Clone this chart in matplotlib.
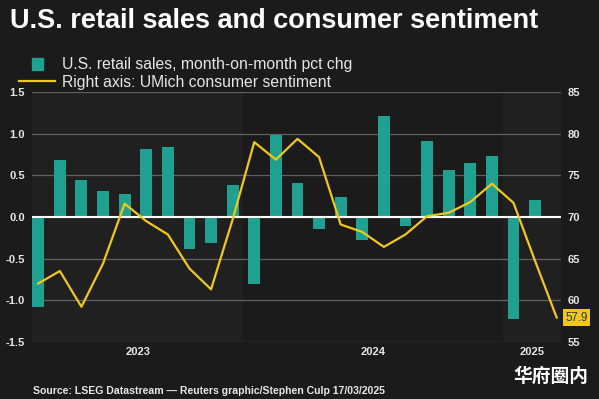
import matplotlib
matplotlib.use("Agg")
import matplotlib.pyplot as plt
import matplotlib.transforms as mtransforms
from matplotlib.patches import Rectangle
from matplotlib.lines import Line2D
import numpy as np

# Monthly data, Mar 2023 .. Mar 2025
months = ["2023-03", "2023-04", "2023-05", "2023-06", "2023-07", "2023-08",
          "2023-09", "2023-10", "2023-11", "2023-12", "2024-01", "2024-02",
          "2024-03", "2024-04", "2024-05", "2024-06", "2024-07", "2024-08",
          "2024-09", "2024-10", "2024-11", "2024-12", "2025-01", "2025-02",
          "2025-03"]
# retail sales m/m pct chg (no March 2025 print yet)
retail = [-1.08, 0.69, 0.44, 0.31, 0.28, 0.82, 0.84, -0.39, -0.31, 0.39,
          -0.81, 0.99, 0.41, -0.15, 0.24, -0.28, 1.21, -0.11, 0.91, 0.57,
          0.65, 0.73, -1.23, 0.20]
# UMich consumer sentiment
sentiment = [62.0, 63.5, 59.2, 64.4, 71.6, 69.5, 67.9, 63.8, 61.3, 69.7,
             79.0, 76.9, 79.4, 77.2, 69.1, 68.2, 66.4, 67.9, 70.1, 70.5,
             71.8, 74.0, 71.7, 64.7, 57.9]
years = ["2023", "2024", "2025"]

BG = "#1b1b1b"
BAND = "#202020"
TEAL = "#20a091"
YELLOW = "#f0c81c"
GRID = "#606060"
TXT = "#e6e6e6"

plt.rcParams['font.family'] = ['Liberation Sans', 'DejaVu Sans']

fig = plt.figure(figsize=(5.99, 3.99), dpi=100, facecolor=BG)
ax = fig.add_axes([0.053, 0.1436, 0.8836, 0.6251])
ax.set_facecolor(BG)

x = np.arange(len(months))
xmin, xmax = -0.3, 24.2

# year bands: find where each year starts
yr_of = [m[:4] for m in months]
starts = [yr_of.index(y) - 0.5 for y in years]
edges = [xmin] + starts[1:] + [xmax]
centers = []
for i, y in enumerate(years):
    lo, hi = edges[i], edges[i + 1]
    centers.append((lo + hi) / 2)
    if i % 2 == 0:
        ax.axvspan(lo, hi, color=BAND, zorder=0, lw=0)

ax.bar(x[:len(retail)], retail, width=0.55, color=TEAL, zorder=2)

ax.set_xlim(xmin, xmax)
ax.set_ylim(-1.5, 1.5)
ax.set_yticks(np.arange(-1.5, 1.51, 0.5))
ax.set_yticklabels([f"{v:.1f}" for v in np.arange(-1.5, 1.51, 0.5)])
ax.grid(axis='y', color=GRID, lw=0.9, zorder=1)
ax.axhline(0, color="white", lw=1.5, zorder=3)
ax.set_xticks(centers)
ax.set_xticklabels(years)
ax.tick_params(axis='both', length=0, colors=TXT, labelsize=8)
ax.tick_params(axis='y', pad=5)
ax.tick_params(axis='x', pad=4)
for lab in ax.get_xticklabels() + ax.get_yticklabels():
    lab.set_fontweight('bold')
for s in ax.spines.values():
    s.set_visible(False)

ax2 = ax.twinx()
ax2.set_ylim(55, 85)
ax2.set_yticks(np.arange(55, 86, 5))
ax2.plot(x, sentiment, color=YELLOW, lw=1.6, zorder=4)
ax2.tick_params(axis='y', length=0, colors=TXT, labelsize=8, pad=5)
for lab in ax2.get_yticklabels():
    lab.set_fontweight('bold')
for s in ax2.spines.values():
    s.set_visible(False)

trans = mtransforms.blended_transform_factory(ax2.transAxes, ax2.transData)
ax2.text(1.008, sentiment[-1], f"{sentiment[-1]:.1f}", transform=trans,
         ha='left', va='center', fontsize=8.3, color="#333333",
         bbox=dict(boxstyle="square,pad=0.22", fc=YELLOW, ec="none"),
         clip_on=False)

# title and legend
fig.text(0.017, 0.947, "U.S. retail sales and consumer sentiment",
         fontsize=19.5, fontweight='bold', color="white", va='center')
fig.patches.append(Rectangle((32 / 599, 1 - 70 / 399), 11 / 599, 12 / 399,
                             transform=fig.transFigure, color=TEAL))
fig.lines.append(Line2D([19 / 599, 55 / 599], [1 - 81 / 399, 1 - 81 / 399],
                        transform=fig.transFigure, color=YELLOW, lw=1.6))
fig.text(62 / 599, 1 - 64 / 399, "U.S. retail sales, month-on-month pct chg",
         fontsize=11.3, color=TXT, va='center')
fig.text(62 / 599, 1 - 82 / 399, "Right axis: UMich consumer sentiment",
         fontsize=11.3, color=TXT, va='center')

fig.text(33 / 599, 8 / 399,
         "Source: LSEG Datastream \u2014 Reuters graphic/Stephen Culp 17/03/2025",
         fontsize=7.6, fontweight='bold', color=TXT, va='center')
fig.text(588 / 599, 22.5 / 399, "华府圈内", fontsize=13.5, fontweight='bold',
         color="white", ha='right', va='center',
         family=['Noto Sans CJK SC', 'DejaVu Sans'])

fig.savefig("out.png", dpi=100, facecolor=BG)
